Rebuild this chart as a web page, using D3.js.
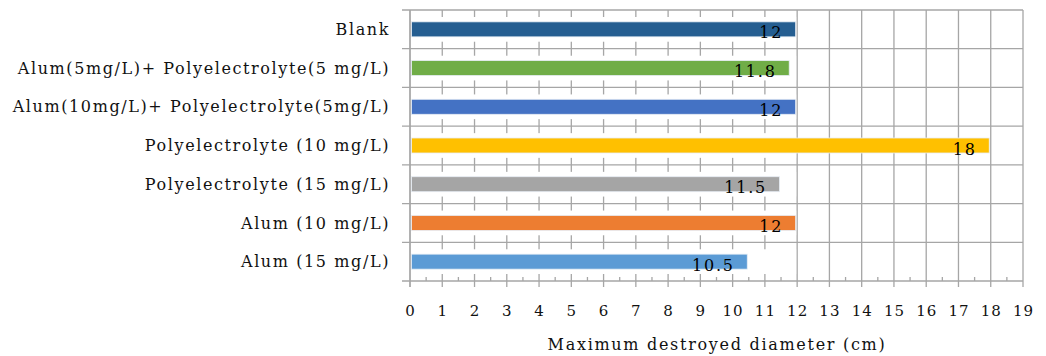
<!DOCTYPE html>
<html>
<head>
<meta charset="utf-8">
<script src="https://cdn.jsdelivr.net/npm/d3@7"></script>
<style>
  body { margin: 0; background: #fff; }
  text { font-family: "DejaVu Serif", serif; }
</style>
</head>
<body>
<svg id="chart" width="1046" height="356"></svg>
<script>
// data, top row first
const categories = [
    "Blank",
    "Alum(5mg/L)+ Polyelectrolyte(5 mg/L)",
    "Alum(10mg/L)+ Polyelectrolyte(5mg/L)",
    "Polyelectrolyte (10 mg/L)",
    "Polyelectrolyte (15 mg/L)",
    "Alum (10 mg/L)",
    "Alum (15 mg/L)"
];
const values = [12, 11.8, 12, 18, 11.5, 12, 10.5];
const valueLabels = ["12", "11.8", "12", "18", "11.5", "12", "10.5"];
const barColors = ["#255E91", "#70AD47", "#4472C4", "#FFC000", "#A5A5A5", "#ED7D31", "#5B9BD5"];
const xTicks = d3.range(0, 20);

const svg = d3.select("#chart");
const plotLeft = 410, plotRight = 1023, plotTop = 10, plotBottom = 281;
const gridColor = "#a6a6a6";

const x = d3.scaleLinear().domain([0, 19]).range([plotLeft, plotRight]);
const y = d3.scaleBand().domain(categories).range([plotTop, plotBottom]);

// vertical grid lines (drop below axis as the major ticks)
svg.append("g")
    .selectAll("line")
    .data(xTicks)
    .enter()
    .append("line")
    .attr("x1", d => x(d)).attr("x2", d => x(d))
    .attr("y1", plotTop).attr("y2", plotBottom + 6)
    .attr("stroke", gridColor)
    .attr("stroke-width", 1.3);

// minor ticks at half units on the bottom axis
svg.append("g")
    .selectAll("line")
    .data(d3.range(0.5, 19, 1))
    .enter()
    .append("line")
    .attr("x1", d => x(d)).attr("x2", d => x(d))
    .attr("y1", plotBottom - 4).attr("y2", plotBottom)
    .attr("stroke", gridColor)
    .attr("stroke-width", 1.3);

// white panels that hide the grid behind each bar row up to 12
svg.append("g")
    .selectAll("rect")
    .data(categories)
    .enter()
    .append("rect")
    .attr("x", x(0) + 1)
    .attr("width", x(12) - x(0) - 2)
    .attr("y", d => y(d) + 7)
    .attr("height", y.bandwidth() - 14)
    .attr("fill", "#fff");

// horizontal lines between rows, sticking out left as ticks
svg.append("g")
    .selectAll("line")
    .data(d3.range(0, categories.length + 1))
    .enter()
    .append("line")
    .attr("x1", plotLeft - 8).attr("x2", plotRight)
    .attr("y1", d => plotTop + d * y.step()).attr("y2", d => plotTop + d * y.step())
    .attr("stroke", gridColor)
    .attr("stroke-width", 1.3);

// left axis line
svg.append("line")
    .attr("x1", plotLeft).attr("x2", plotLeft)
    .attr("y1", plotTop).attr("y2", plotBottom + 6)
    .attr("stroke", gridColor)
    .attr("stroke-width", 1.3);

// bars
const barH = 15;
svg.append("g")
    .selectAll("rect")
    .data(categories)
    .enter()
    .append("rect")
    .attr("x", x(0) + 1.5)
    .attr("y", d => y(d) + (y.bandwidth() - barH) / 2)
    .attr("width", (d, i) => x(values[i]) - x(0) - 3)
    .attr("height", barH)
    .attr("fill", (d, i) => barColors[i])
    .attr("stroke", "#e8eef5")
    .attr("stroke-width", 0.8);

// value labels
svg.append("g")
    .selectAll("text")
    .data(categories)
    .enter()
    .append("text")
    .attr("x", (d, i) => x(values[i]) - 14)
    .attr("y", d => y(d) + y.bandwidth() / 2 + 9)
    .attr("text-anchor", "end")
    .attr("font-size", 16)
    .attr("letter-spacing", 1.8)
    .attr("fill", "#000")
    .text((d, i) => valueLabels[i]);

// category labels
svg.append("g")
    .selectAll("text")
    .data(categories)
    .enter()
    .append("text")
    .attr("x", plotLeft - 20)
    .attr("y", d => y(d) + y.bandwidth() / 2)
    .attr("dy", "0.35em")
    .attr("text-anchor", "end")
    .attr("font-size", 16)
    .attr("letter-spacing", 1.6)
    .attr("fill", "#111")
    .text(d => d);

// x tick labels
svg.append("g")
    .selectAll("text")
    .data(xTicks)
    .enter()
    .append("text")
    .attr("x", d => x(d) + 0.5)
    .attr("y", 311)
    .attr("dy", "0.35em")
    .attr("text-anchor", "middle")
    .attr("font-size", 15)
    .attr("letter-spacing", 1)
    .attr("fill", "#111")
    .text(d => d);

// axis title
svg.append("text")
    .attr("x", 717)
    .attr("y", 344)
    .attr("dy", "0.35em")
    .attr("text-anchor", "middle")
    .attr("font-size", 16)
    .attr("letter-spacing", 1.7)
    .attr("fill", "#111")
    .text("Maximum destroyed diameter (cm)");
</script>
</body>
</html>
